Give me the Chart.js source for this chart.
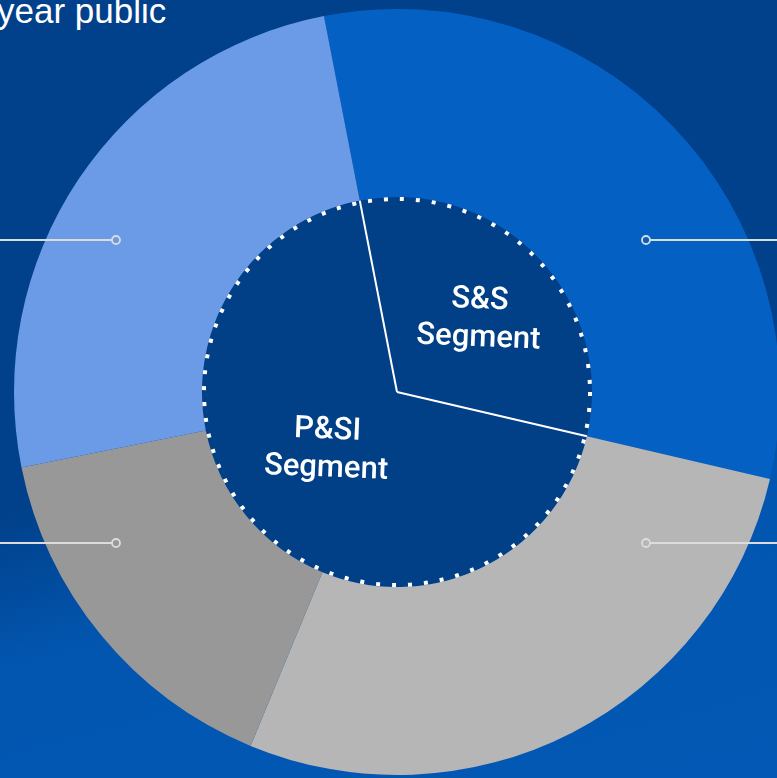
<!DOCTYPE html>
<html>
<head>
<meta charset="utf-8">
<script src="https://cdn.jsdelivr.net/npm/chart.js@4"></script>
<style>
  html, body { margin: 0; padding: 0; }
  body {
    width: 777px; height: 778px; overflow: hidden; position: relative;
    background: linear-gradient(165deg, #01408a 0%, #01408a 52%, #0256b0 68%, #0258b4 100%);
    font-family: Roboto, "Noto Sans", sans-serif;
  }
  #heading {
    position: absolute; left: -3px; top: -7px; color: #fff;
    font-family: "Liberation Sans", Arial, sans-serif;
    font-size: 35px; line-height: 1; white-space: nowrap;
  }
  #wrap { position: absolute; left: 0; top: 0; width: 780px; height: 778px; }
</style>
</head>
<body>
<div id="heading">year public</div>
<div id="wrap"><canvas id="segment_chart"></canvas></div>
<script>
// inner pie: the two segments
const segmentLabels = ['S&S\nSegment', 'P&SI\nSegment'];
const segmentValues = [31.7, 68.3];

// outer ring (clockwise from the S&S boundary)
const ringLabels = ['S&S', 'P&SI part 1', 'P&SI part 2', 'P&SI part 3'];
const ringValues = [31.7, 27.6, 15.6, 25.1];
const ringColors = ['#0560c3', '#b6b6b6', '#989898', '#6b9be6'];

// leader line markers, offset from the chart centre (right/left, up/down)
const markerSide = [1, 1, -1, -1];
const markerDx = [249, 249, 281, 281];
const markerDy = [-152, 151, 151, -152];

const innerColor = '#013f87';

const decorations = {
    id: 'decorations',
    afterDatasetsDraw(chart) {
        const ctx = chart.ctx;
        const inner = chart.getDatasetMeta(1).data;
        const first = inner[0];
        const cx = first.x, cy = first.y, r = first.outerRadius;

        // leader lines with small round markers
        ctx.save();
        ctx.strokeStyle = '#dcdcdc';
        ctx.lineWidth = 2;
        chart.getDatasetMeta(0).data.forEach(function(arc, i){
            const mx = cx + markerSide[i] * markerDx[i];
            const my = cy + markerDy[i];
            const endX = markerSide[i] > 0 ? chart.width : 0;
            ctx.beginPath();
            ctx.moveTo(mx + markerSide[i] * 4, my);
            ctx.lineTo(endX, my);
            ctx.stroke();
            ctx.beginPath();
            ctx.arc(mx, my, 4, 0, Math.PI * 2);
            ctx.fillStyle = ringColors[i];
            ctx.fill();
            ctx.lineWidth = 1.8;
            ctx.stroke();
            ctx.lineWidth = 2;
        });
        ctx.restore();

        // white radial lines between the two segments
        ctx.save();
        ctx.strokeStyle = '#ffffff';
        ctx.lineWidth = 2;
        inner.forEach(function(arc){
            ctx.beginPath();
            ctx.moveTo(cx, cy);
            ctx.lineTo(cx + Math.cos(arc.startAngle) * r, cy + Math.sin(arc.startAngle) * r);
            ctx.stroke();
        });
        ctx.restore();

        // dotted outline of the inner pie
        ctx.save();
        ctx.strokeStyle = '#ffffff';
        ctx.lineWidth = 4;
        ctx.setLineDash([4, 12]);
        ctx.beginPath();
        ctx.arc(cx, cy, r - 2, 0, Math.PI * 2);
        ctx.stroke();
        ctx.restore();

        // segment names, slightly tilted like the original
        ctx.save();
        ctx.fillStyle = '#ffffff';
        ctx.font = '500 31px Roboto';
        ctx.textAlign = 'center';
        ctx.textBaseline = 'middle';
        inner.forEach(function(arc, i){
            const mid = (arc.startAngle + arc.endAngle) / 2;
            const tx = cx + Math.cos(mid) * r * 0.5 + (i === 0 ? 12 : 0);
            const ty = cy + Math.sin(mid) * r * 0.5 + (i === 0 ? -5 : -10);
            const lines = segmentLabels[i].split('\n');
            ctx.save();
            ctx.translate(tx, ty);
            ctx.rotate(2.3 * Math.PI / 180);
            lines.forEach(function(line, k){
                ctx.fillText(line, 0, (k - (lines.length - 1) / 2) * 38);
            });
            ctx.restore();
        });
        ctx.restore();
    }
};

function initSegmentChart(){
    const ctx = document.getElementById('segment_chart').getContext('2d');
    var chart = new Chart(ctx, {
        type: 'doughnut',
        data: {
            labels: ringLabels,
            datasets: [{
                data: ringValues,
                backgroundColor: ringColors,
                borderWidth: 0,
                weight: 188
            }, {
                data: segmentValues,
                backgroundColor: [innerColor, innerColor],
                borderWidth: 0,
                weight: 195
            }]
        },
        options: {
            responsive: true,
            maintainAspectRatio: false,
            animation: false,
            cutout: 0,
            rotation: -11,
            hoverOffset: 0,
            layout: { padding: { left: 14, top: 9, right: 0, bottom: 3 } },
            plugins: {
                legend: { display: false },
                tooltip: { enabled: false }
            }
        },
        plugins: [decorations]
    });
}

initSegmentChart();
</script>
</body>
</html>
